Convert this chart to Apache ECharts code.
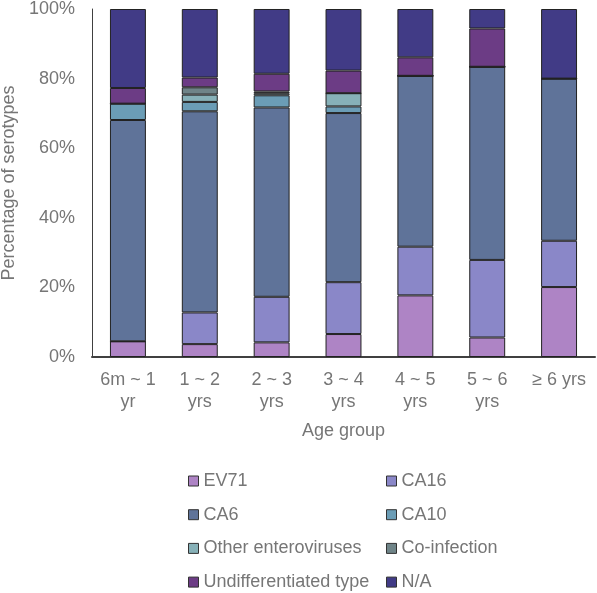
<!DOCTYPE html>
<html><head><meta charset="utf-8">
<script src="https://cdn.jsdelivr.net/npm/echarts@6/dist/echarts.min.js"></script>
<style>html,body{margin:0;padding:0;background:#fff}#c{width:597px;height:593px}</style>
</head><body><div id="c"></div>
<script>
const categories = ['6m ~ 1\nyr', '1 ~ 2\nyrs', '2 ~ 3\nyrs', '3 ~ 4\nyrs', '4 ~ 5\nyrs', '5 ~ 6\nyrs', '≥ 6 yrs'];
const EV71         = [4.5, 3.7, 4.2, 6.6, 17.7, 5.6, 20.1];
const CA16         = [0, 9.1, 13.1, 14.9, 14.0, 22.3, 13.3];
const CA6          = [63.6, 57.8, 54.4, 48.6, 49.1, 55.5, 46.6];
const CA10         = [4.7, 2.7, 3.5, 1.9, 0, 0, 0];
const otherEntero  = [0, 2.1, 0.6, 3.8, 0, 0, 0];
const coInfection  = [0, 2.1, 0.5, 0, 0, 0, 0];
const undiff       = [4.5, 2.8, 5.1, 6.5, 5.3, 11.0, 0];
const NA           = [22.7, 19.7, 18.6, 17.7, 13.9, 5.6, 20.0];
const yTicks = ['0%', '20%', '40%', '60%', '80%', '100%'];

const seriesDefs = [
  ['EV71', EV71, '#ae84c5'],
  ['CA16', CA16, '#8a87c8'],
  ['CA6', CA6, '#5f7399'],
  ['CA10', CA10, '#6b9db6'],
  ['Other enteroviruses', otherEntero, '#87b1b8'],
  ['Co-infection', coInfection, '#6f8488'],
  ['Undifferentiated type', undiff, '#6c3c85'],
  ['N/A', NA, '#413b86']
];
const grey = '#767676';
const series = seriesDefs.map(([name, data, color]) => ({
  name, type: 'bar', stack: 'total', data,
  barCategoryGap: '50%',
  itemStyle: { color, borderColor: '#222', borderWidth: 1 },
  emphasis: { disabled: true }
}));
const legendCommon = {
  orient: 'vertical', itemWidth: 10, itemHeight: 10, itemGap: 13.7,
  height: 200, width: 220, padding: 0,
  icon: 'rect',
  itemStyle: { borderColor: '#333', borderWidth: 1 },
  textStyle: { color: grey, fontSize: 18, fontFamily: 'Liberation Sans, Arial, sans-serif', lineHeight: 20 },
  selectedMode: false
};
const chart = echarts.init(document.getElementById('c'), null, { renderer: 'canvas' });
chart.setOption({
  animation: false,
  backgroundColor: '#fff',
  textStyle: { fontFamily: 'Liberation Sans, Arial, sans-serif' },
  grid: { left: 92, right: 2, top: 9, bottom: 236, containLabel: false, outerBoundsMode: 'none' },
  legend: [
    Object.assign({ left: 188, top: 471, data: ['EV71', 'CA6', 'Other enteroviruses', 'Undifferentiated type'] }, legendCommon),
    Object.assign({ left: 386, top: 471, data: ['CA16', 'CA10', 'Co-infection', 'N/A'] }, legendCommon)
  ],
  xAxis: {
    type: 'category', data: categories,
    name: 'Age group', nameLocation: 'middle', nameGap: 65,
    nameTextStyle: { color: grey, fontSize: 18 },
    axisLine: { lineStyle: { color: '#404040', width: 2 } },
    axisTick: { show: false },
    axisLabel: { color: grey, fontSize: 18, lineHeight: 22, margin: 12, interval: 0 }
  },
  yAxis: {
    type: 'value', min: 0, max: 100, interval: 20,
    name: 'Percentage of serotypes', nameLocation: 'middle', nameGap: 74,
    nameTextStyle: { color: grey, fontSize: 18 },
    axisLine: { show: true, lineStyle: { color: '#404040', width: 1 } },
    axisTick: { show: false },
    splitLine: { show: false },
    axisLabel: { color: grey, fontSize: 18, margin: 17, formatter: v => yTicks[Math.round(v / 20)] }
  },
  series
});
</script>
</body></html>
